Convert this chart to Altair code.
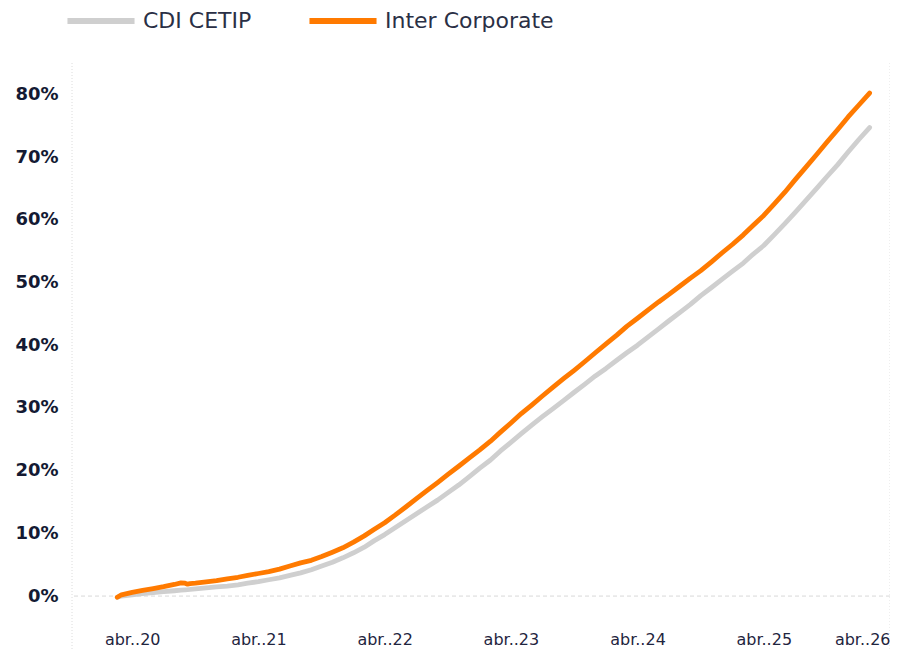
import altair as alt
import pandas as pd

# ---- data (cumulative return, %) ----
dates = [
    "2020-02-18", "2020-03-01", "2020-04-01", "2020-05-01", "2020-06-01", "2020-07-01",
    "2020-08-01", "2020-08-20", "2020-09-01", "2020-09-08", "2020-09-15", "2020-10-01",
    "2020-11-01", "2020-12-01",
    "2021-01-01", "2021-02-01", "2021-03-01", "2021-04-01", "2021-05-01", "2021-06-01",
    "2021-07-01", "2021-08-01", "2021-09-01", "2021-10-01", "2021-11-01", "2021-12-01",
    "2022-01-01", "2022-02-01", "2022-03-01", "2022-04-01", "2022-05-01", "2022-06-01",
    "2022-07-01", "2022-08-01", "2022-09-01", "2022-10-01", "2022-11-01", "2022-12-01",
    "2023-01-01", "2023-02-01", "2023-03-01", "2023-04-01", "2023-05-01", "2023-06-01",
    "2023-07-01", "2023-08-01", "2023-09-01", "2023-10-01", "2023-11-01", "2023-12-01",
    "2024-01-01", "2024-02-01", "2024-03-01", "2024-04-01", "2024-05-01", "2024-06-01",
    "2024-07-01", "2024-08-01", "2024-09-01", "2024-10-01", "2024-11-01", "2024-12-01",
    "2025-01-01", "2025-02-01", "2025-03-01", "2025-04-01", "2025-05-01", "2025-06-01",
    "2025-07-01", "2025-08-01", "2025-09-01", "2025-10-01", "2025-11-01", "2025-12-01",
    "2026-01-01", "2026-02-01",
]

cdi_cetip = [
    -0.2, 0.0, 0.2, 0.4, 0.55, 0.7, 0.85, 0.95, 1.0, 1.02, 1.05, 1.15, 1.3, 1.45,
    1.6, 1.8, 2.05, 2.3, 2.6, 2.9, 3.3, 3.7, 4.2, 4.8, 5.4, 6.1,
    6.9, 7.8, 8.8, 9.8, 10.9, 12.0, 13.1, 14.2, 15.3, 16.5, 17.7, 19.0,
    20.4, 21.7, 23.1, 24.5, 25.9, 27.3, 28.6, 29.9, 31.2, 32.5, 33.8, 35.1,
    36.3, 37.6, 38.8, 40.0, 41.3, 42.6, 43.9, 45.2, 46.5, 47.9, 49.2, 50.5,
    51.8, 53.1, 54.5, 55.9, 57.6, 59.4, 61.2, 63.1, 65.0, 66.9, 68.8, 70.8,
    72.8, 74.7,
]

inter_corporate = [
    -0.2, 0.2, 0.6, 0.9, 1.2, 1.5, 1.85, 2.1, 2.05, 1.9, 1.98, 2.05, 2.25, 2.45,
    2.75, 3.0, 3.3, 3.6, 3.9, 4.3, 4.8, 5.3, 5.7, 6.3, 7.0, 7.7,
    8.6, 9.6, 10.6, 11.7, 12.9, 14.2, 15.5, 16.8, 18.1, 19.4, 20.7, 22.0,
    23.3, 24.7, 26.1, 27.6, 29.1, 30.5, 31.9, 33.3, 34.7, 36.0, 37.4, 38.8,
    40.2, 41.6, 43.0, 44.3, 45.6, 46.9, 48.1, 49.4, 50.7, 51.9, 53.3, 54.7,
    56.1, 57.6, 59.1, 60.7, 62.5, 64.4, 66.4, 68.4, 70.4, 72.4, 74.4, 76.4,
    78.3, 80.2,
]

series_names = ["CDI CETIP", "Inter Corporate"]
series_colors = ["#cfcfcf", "#ff7a00"]

x_tick_years = [2020, 2021, 2022, 2023, 2024, 2025, 2026]
y_ticks = [0, 10, 20, 30, 40, 50, 60, 70, 80]

x_domain_dates = ["2019-10-10", "2026-04-01"]

# ---- build tables ----
n = len(dates)
df = pd.DataFrame({
    "date": dates + dates,
    "value": cdi_cetip + inter_corporate,
    "series": [series_names[0]] * n + [series_names[1]] * n,
})
edges = pd.DataFrame({"date": x_domain_dates})
zero = pd.DataFrame({"value": [0]})

FONT = "DejaVu Sans"

x_scale = alt.Scale(
    type="utc",
    domain=[alt.DateTime(year=2019, month=10, date=10, utc=True),
            alt.DateTime(year=2026, month=4, date=1, utc=True)],
)
y_scale = alt.Scale(domain=[-8.6, 85], nice=False, zero=False)

x_axis = alt.Axis(
    values=[alt.DateTime(year=yy, month=4, date=1, utc=True) for yy in x_tick_years],
    labelExpr="'abr..' + utcFormat(datum.value, '%y')",
    title=None, ticks=False, tickSize=0, domain=False, grid=False,
    labelFontSize=16, labelColor="#1f2540", labelFont=FONT,
    labelPadding=0, offset=-19, labelFlush=True,
)
y_axis = alt.Axis(
    values=y_ticks,
    labelExpr="datum.value + '%'",
    title=None, ticks=False, tickSize=0, grid=False, domain=False,
    labelFontSize=18, labelFontWeight="bold", labelColor="#141a33",
    labelFont=FONT, labelPadding=14,
)

lines = alt.Chart(df).mark_line(
    strokeWidth=4.8, strokeCap="round", strokeJoin="round"
).encode(
    x=alt.X("date:T", scale=x_scale, axis=x_axis),
    y=alt.Y("value:Q", scale=y_scale, axis=y_axis),
    color=alt.Color(
        "series:N",
        scale=alt.Scale(domain=series_names, range=series_colors),
        legend=alt.Legend(
            title=None, orient="none", direction="horizontal",
            legendX=-8, legendY=-79,
            symbolType="stroke", symbolSize=4500, symbolStrokeWidth=6,
            labelFontSize=22, labelColor="#2a2f45", labelFont=FONT,
            labelLimit=400, labelOffset=5, columnPadding=45, symbolOpacity=1,
        ),
    ),
)

zero_rule = alt.Chart(zero).mark_rule(
    stroke="#d9d9d9", strokeWidth=1, strokeDash=[4, 3]
).encode(y=alt.Y("value:Q", scale=y_scale, axis=y_axis))

edge_rules = alt.Chart(edges).mark_rule(
    stroke="#dcdcdc", strokeWidth=1, strokeDash=[1, 2]
).encode(x=alt.X("date:T", scale=x_scale, axis=x_axis))

chart = alt.layer(zero_rule, edge_rules, lines).properties(
    width=818,
    height=587,
    autosize=alt.AutoSizeParams(type="none"),
    padding={"left": 64, "top": 55, "right": 0, "bottom": 0},
    background="white",
).configure(font=FONT).configure_view(stroke=None)

chart.save("out.html", embed_options={"renderer": "svg", "actions": False})
